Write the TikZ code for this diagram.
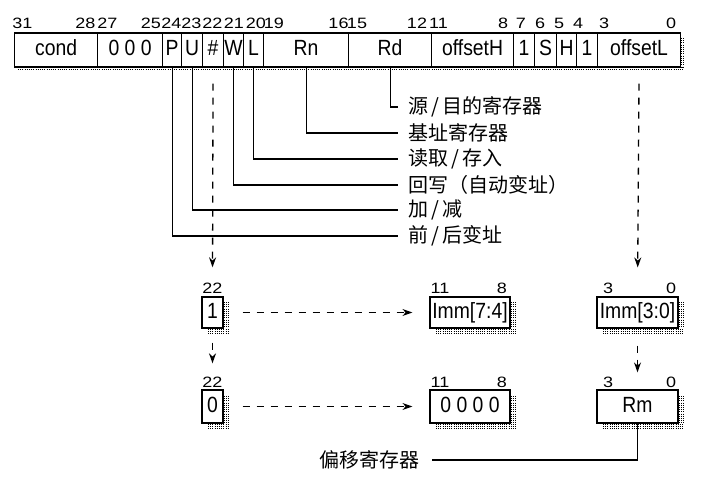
\documentclass[tikz,border=0pt]{standalone}
\usepackage{fontspec}
\newfontfamily\fieldfont{Liberation Sans}[FakeStretch=0.88]
\newfontfamily\numfont{Liberation Sans}[FakeStretch=1.2]
\newfontfamily\cjk{Noto Sans CJK SC}
\usetikzlibrary{arrows.meta}
\newcommand{\slsep}{\kern3pt/\kern3pt}

\begin{document}
\begin{tikzpicture}[x=1pt,y=-1pt,
  shadowline/.style={draw, line width=1pt, dash pattern=on 1pt off 1.2pt},
  field/.style={rectangle, draw, line width=1.2pt, inner sep=0pt, minimum height=34pt, anchor=west,
    text height=16pt, text depth=4pt, font=\fieldfont\fontsize{22}{24}\selectfont},
  bitbox/.style={rectangle, draw, line width=1.2pt, inner sep=0pt, minimum height=31pt,
    text height=16pt, text depth=4pt, font=\fieldfont\fontsize{22}{24}\selectfont},
  bitnum/.style={inner sep=1pt, anchor=base, font=\numfont\fontsize{15}{17}\selectfont},
  lbl/.style={inner sep=0pt, anchor=west, font=\cjk\fontsize{20}{22}\selectfont},
  link/.style={line width=1.2pt},
  dashlink/.style={line width=1.3pt, dash pattern=on 7pt off 7pt, -{Stealth[length=10pt,width=7pt]}}]
\useasboundingbox (0,0) rectangle (707,481);
% shadows, stippled
\foreach \d in {1,3} {
  \draw [shadowline] (18,67+\d) -- (684,67+\d);
  \draw [shadowline] (680+\d,38) -- (680+\d,67);
}
\foreach \xa/\ya/\xb/\yb in {208/302/229/334, 436/302/516/334, 603/302/684/334,
    208/396/229/429, 436/396/516/429, 603/396/684/429} {
  \foreach \d in {1,3,5} {
    \draw [shadowline] (\xa,\yb-6+\d) -- (\xb,\yb-6+\d);
    \draw [shadowline] (\xb-6+\d,\ya) -- (\xb-6+\d,\yb-6);
  }
}
% instruction word
\foreach \nm/\txt/\xa/\xb [evaluate=\xa as \w using \xb-\xa] in {cond/cond/14/97, zeros/0 0 0/97/162,
    P/P/162/181, U/U/181/202, hash/\#/202/223, W/W/223/243, L/L/243/263, Rn/Rn/263/348, Rd/Rd/348/431,
    offH/offsetH/431/513, oneA/1/513/534, S/S/534/556, H/H/556/576, oneB/1/576/597, offL/offsetL/597/680}
  \node [field, minimum width=\w pt] (\nm) at (\xa,50) {\txt};
\foreach \x/\b in {22.5/31, 85.5/28, 107.5/27, 151/25, 171.5/24, 191.5/23, 212.5/22, 234/21, 256/20, 274/19,
    338.5/16, 357/15, 417/12, 438.5/11, 503/8, 521/7, 540/6, 559/5, 578/4, 604/3, 671/0}
  \node [bitnum] (b\b) at (\x,29) {\b};
% field meanings
\node [lbl] (lblRd) at (408,107) {源\slsep 目的寄存器};
\node [lbl] (lblRn) at (408,133) {基址寄存器};
\node [lbl] (lblL) at (408,159) {读取\slsep 存入};
\node [lbl] (lblW) at (408,185) {回写（自动变址）};
\node [lbl] (lblU) at (408,210) {加\slsep 减};
\node [lbl] (lblP) at (408,236) {前\slsep 后变址};
\foreach \f in {Rd,Rn,L,W,U,P}
  \draw [link, shorten >=10pt] (\f.south) |- (lbl\f.west);
% offset forms
\node [bitbox, minimum width=21pt] (oneI) at (212.5,312.5) {1};
\node [bitbox, minimum width=80pt] (immH) at (470,312.5) {Imm[7:4]};
\node [bitbox, minimum width=81pt] (immL) at (637.5,312.5) {Imm[3:0]};
\node [bitbox, minimum width=21pt, minimum height=33pt] (zeroI) at (212.5,406.5) {0};
\node [bitbox, minimum width=80pt, minimum height=33pt] (zerosH) at (470,406.5) {0 0 0 0};
\node [bitbox, minimum width=81pt, minimum height=33pt] (Rm) at (637.5,406.5) {Rm};
\node [bitnum] (t22a) at (212.5,293) {22};
\node [bitnum] (t11a) at (440,293) {11};
\node [bitnum] (t8a) at (502,293) {8};
\node [bitnum] (t3a) at (608,293) {3};
\node [bitnum] (t0a) at (671,293) {0};
\node [bitnum] (t22b) at (212.5,387) {22};
\node [bitnum] (t11b) at (440,387) {11};
\node [bitnum] (t8b) at (502,387) {8};
\node [bitnum] (t3b) at (608,387) {3};
\node [bitnum] (t0b) at (671,387) {0};
\draw [dashlink, shorten <=16pt, shorten >=14pt] (hash.south) -- (t22a.north);
\draw [dashlink, shorten <=14pt, shorten >=12pt] (oneI.south) -- (t22b.north);
\draw [dashlink, shorten <=19pt, shorten >=17pt] (oneI.east) -- (immH.west);
\draw [dashlink, shorten <=19pt, shorten >=17pt] (zeroI.east) -- (zerosH.west);
\draw [dashlink, shorten <=16pt, shorten >=29pt] (offL.south) -- (immL.north);
\draw [dashlink, shorten <=17pt, shorten >=17pt] (immL.south) -- (Rm.north);
\node [lbl, anchor=east] (lblRm) at (420,460) {偏移寄存器};
\draw [link, shorten >=12pt] (Rm.south) |- (lblRm.east);
\end{tikzpicture}
\end{document}
